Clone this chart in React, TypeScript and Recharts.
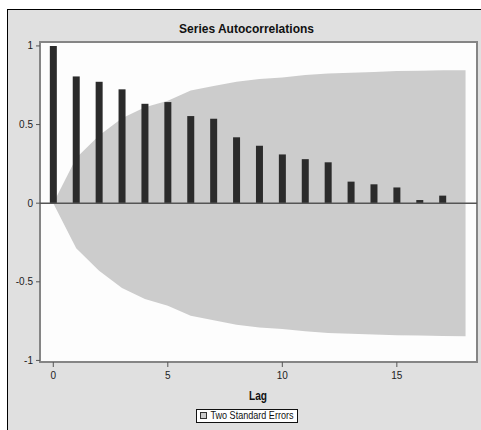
import React from 'react';
import {
  ComposedChart,
  Bar,
  Area,
  XAxis,
  YAxis,
  CartesianGrid,
  ReferenceLine,
  ReferenceArea,
} from 'recharts';

const lags = [0, 1, 2, 3, 4, 5, 6, 7, 8, 9, 10, 11, 12, 13, 14, 15, 16, 17, 18];
const acfValues = [1.0, 0.806, 0.772, 0.724, 0.632, 0.643, 0.554, 0.537, 0.419, 0.365, 0.31, 0.28, 0.26, 0.137, 0.12, 0.1, 0.02, 0.048];
const stdErrBand = [0, 0.287, 0.43, 0.54, 0.61, 0.652, 0.716, 0.745, 0.773, 0.79, 0.8, 0.815, 0.825, 0.83, 0.835, 0.84, 0.842, 0.845, 0.846];
const xTicks = [0, 5, 10, 15];
const yTicks = [-1, -0.5, 0, 0.5, 1];

const data = lags.map((lag, i) => ({
  lag,
  acf: i < acfValues.length ? acfValues[i] : null,
  band: [-stdErrBand[i], stdErrBand[i]],
}));

const X_MIN = -0.58;
const X_MAX = 18.5;
const Y_MIN = -1.01;
const Y_MAX = 1.025;

const font = 'Arial, "Liberation Sans", sans-serif';
const tickStyle = { fontSize: 10, fill: '#222', fontFamily: font };

export default function App() {
  return (
    <div style={{ position: 'absolute', left: 0, top: 0, width: 481, height: 430, background: '#fff', overflow: 'hidden' }}>
      <div
        style={{
          position: 'absolute',
          left: 7,
          top: 9,
          width: 480,
          height: 430,
          background: '#e0e0e0',
          borderLeft: '1px solid #000',
          borderTop: '1px solid #000',
        }}
      />
      <div style={{ position: 'absolute', left: 0, top: 0 }}>
        <ComposedChart
          width={481}
          height={430}
          data={data}
          margin={{ top: 42, right: 4, bottom: 48, left: 0 }}
        >
          <CartesianGrid horizontal={false} vertical={false} fill="#fdfdfd" />
          <XAxis
            dataKey="lag"
            type="number"
            domain={[X_MIN, X_MAX]}
            ticks={xTicks}
            allowDataOverflow
            axisLine={false}
            tickLine={{ stroke: '#555' }}
            tickSize={5}
            tickMargin={5}
            height={20}
            tick={tickStyle}
          />
          <YAxis
            type="number"
            domain={[Y_MIN, Y_MAX]}
            ticks={yTicks}
            allowDataOverflow
            axisLine={false}
            tickLine={{ stroke: '#555' }}
            tickSize={4}
            tickMargin={3}
            width={40}
            tick={tickStyle}
          />
          <Area
            dataKey="band"
            type="linear"
            stroke="none"
            fill="#cccccc"
            fillOpacity={1}
            isAnimationActive={false}
            activeDot={false}
          />
          <Bar dataKey="acf" fill="#2b2b2b" barSize={7} isAnimationActive={false} />
          <ReferenceLine y={0} stroke="#555" strokeWidth={1.5} />
          <ReferenceArea
            x1={X_MIN}
            x2={X_MAX}
            y1={Y_MIN}
            y2={Y_MAX}
            fill="none"
            stroke="#858585"
            strokeWidth={2}
          />
        </ComposedChart>
      </div>
      <svg
        width={481}
        height={430}
        style={{ position: 'absolute', left: 0, top: 0, pointerEvents: 'none' }}
      >
        <text x={246.5} y={33} textAnchor="middle" fontFamily={font} fontWeight="bold" fontSize={12} fill="#111">
          Series Autocorrelations
        </text>
        <text
          x={249}
          y={400}
          fontFamily={font}
          fontWeight="bold"
          fontSize={12}
          fill="#111"
          textLength={18}
          lengthAdjust="spacingAndGlyphs"
        >
          Lag
        </text>
        <rect x={196.5} y={409.5} width={101} height={13} fill="#fff" stroke="#111" strokeWidth={1} />
        <rect x={200.5} y={412.5} width={6} height={6} fill="#cccccc" stroke="#333" strokeWidth={1} />
        <text
          x={210.5}
          y={419}
          fontFamily={font}
          fontSize={10.5}
          fill="#111"
          textLength={83}
          lengthAdjust="spacingAndGlyphs"
        >
          Two Standard Errors
        </text>
      </svg>
    </div>
  );
}
